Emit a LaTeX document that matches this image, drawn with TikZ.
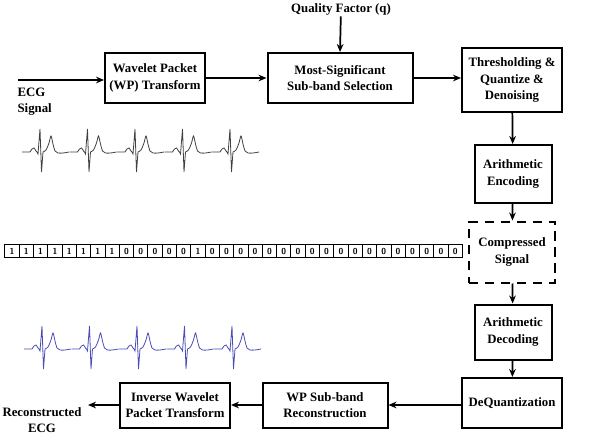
\documentclass[tikz,border=0pt]{standalone}
\usepackage{fontspec}
\setmainfont{Liberation Serif}
\usetikzlibrary{arrows.meta}
\begin{document}
\begin{tikzpicture}[x=0.75pt,y=-0.75pt,
  box/.style={draw,line width=1.5pt,align=center,font=\bfseries\fontsize{9.6}{12.5}\selectfont,inner sep=0pt},
  lbl/.style={align=center,font=\bfseries\fontsize{9.6}{12.5}\selectfont,inner sep=1pt},
  arr/.style={line width=1.3pt,-{Stealth[length=6pt,width=5pt]}},
  bit/.style={draw,line width=0.6pt,minimum width=14.3*0.75pt,minimum height=13*0.75pt,inner sep=0pt,font=\sffamily\bfseries\fontsize{6.5}{6.5}\selectfont}]
\useasboundingbox (0,0) rectangle (600,446);
\node[box,minimum width=100*0.75pt,minimum height=50*0.75pt] (wp) at (155,78) {Wavelet Packet\\(WP) Transform};
\node[box,minimum width=145*0.75pt,minimum height=50*0.75pt] (ms) at (340,78) {Most-Significant\\Sub-band Selection};
\node[box,minimum width=100*0.75pt,minimum height=64*0.75pt] (th) at (512,80) {Thresholding \&\\Quantize \&\\Denoising};
\node[box,minimum width=77*0.75pt,minimum height=58*0.75pt] (en) at (513,174) {Arithmetic\\Encoding};
\node[box,dashed,dash pattern=on 7pt off 5pt,minimum width=86*0.75pt,minimum height=61*0.75pt] (cs) at (512,252) {Compressed\\Signal};
\node[box,minimum width=77*0.75pt,minimum height=55*0.75pt] (de) at (513,332) {Arithmetic\\Decoding};
\node[box,minimum width=100*0.75pt,minimum height=50*0.75pt] (dq) at (512,403) {DeQuantization};
\node[box,minimum width=125*0.75pt,minimum height=45*0.75pt] (rc) at (325,405) {WP Sub-band\\Reconstruction};
\node[box,minimum width=110*0.75pt,minimum height=45*0.75pt] (iw) at (175,405) {Inverse Wavelet\\Packet Transform};
\node[lbl] (qf) at (341,9) {Quality Factor (q)};
\node[lbl,align=left,anchor=north west] (ecg) at (16,86) {ECG\\Signal};
\node[lbl] (rec) at (42,420) {Reconstructed\\ECG};
\coordinate (ein) at (18,80);
\coordinate (rout) at (88,405);
\draw[arr] (ein) -- (wp.west|-ein);
\draw[arr] (wp) -- (ms);
\draw[arr] (ms) -- (ms-|th.west);
\draw[arr] (qf) -- (ms.north);
\draw[arr] (th) -- (en);
\draw[arr] (en) -- (cs);
\draw[arr] (cs) -- (de);
\draw[arr] (de) -- (dq);
\draw[arr] (dq.west|-rc) -- (rc);
\draw[arr] (rc) -- (iw);
\draw[arr] (iw) -- (rout);
% bits
\foreach \b [count=\i from 0] in {1,1,1,1,1,1,1,1,0,0,0,0,0,1,0,0,0,0,0,0,0,0,0,0,0,0,0,0,0,0,0,0}
  \node[bit] (b\i) at ({12+14.3*\i},251) {\b};
% ECG traces
\newcommand\ecgbeat[2]{%
  \draw[#2,shift={(#1)}] (0,0) -- (8,0) -- plot[smooth] coordinates{(8,0)(10,-3)(12,-4)(14,-1)(15,0)}
   -- (16,2) -- (18,-23) -- (19.5,20) -- (21,0) -- plot[smooth] coordinates{(21,0)(24,-2)(27,-9)(29,-16)(31,-8)(33,-1)(36,1)(41,1)(47,0)};}
\foreach \k in {0,...,4} \ecgbeat{22+47.5*\k,152}{line width=0.6pt,black!75};
\foreach \k in {0,...,4} \ecgbeat{24+47.5*\k,349}{line width=0.6pt,blue!60!black!70};
\end{tikzpicture}
\end{document}
